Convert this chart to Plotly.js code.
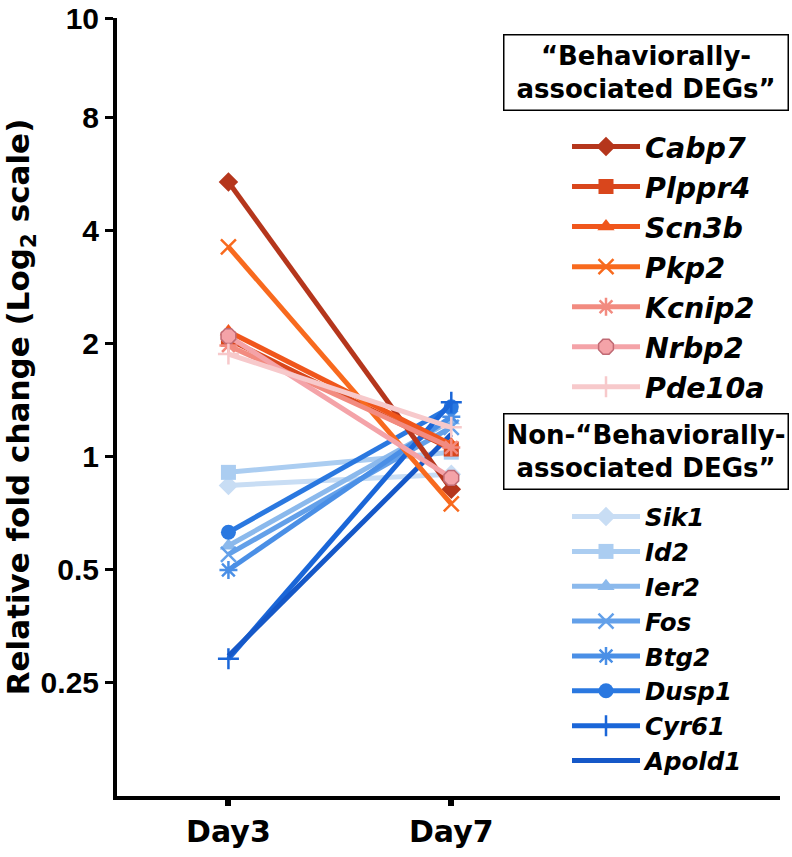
<!DOCTYPE html>
<html>
<head>
<meta charset="utf-8">
<script src="https://cdn.plot.ly/plotly-3.0.1.min.js"></script>
<style>html,body{margin:0;padding:0;background:#fff;}</style>
</head>
<body>
<div id="chart" style="width:792px;height:857px;"></div>
<script>
// ---- Data ----
var days = ["Day3", "Day7"];

var behGenes   = ["Cabp7", "Plppr4", "Scn3b", "Pkp2", "Kcnip2", "Nrbp2", "Pde10a"];
var behDay3    = [5.4, 2.06, 2.16, 3.63, 1.98, 2.10, 1.88];
var behDay7    = [0.82, 1.05, 1.08, 0.75, 1.06, 0.88, 1.20];
var behColors  = ["#b5361c", "#d9461c", "#f0561c", "#f86a1e", "#f28b80", "#f4a3a8", "#f7c9cb"];
var behSymbols = ["diamond", "square", "triangle-up", "x-thin-open", "asterisk-open", "octagon", "cross-thin-open"];

var nonGenes   = ["Sik1", "Id2", "Ier2", "Fos", "Btg2", "Dusp1", "Cyr61", "Apold1"];
var nonDay3    = [0.84, 0.91, 0.58, 0.55, 0.50, 0.63, 0.29, 0.295];
var nonDay7    = [0.90, 1.03, 1.25, 1.20, 1.28, 1.36, 1.40, 1.15];
var nonColors  = ["#c8ddf4", "#abcdf1", "#8bb9ec", "#63a0e9", "#4a8fe6", "#2a78e0", "#1a66d8", "#1558c8"];
var nonSymbols = ["diamond", "square", "triangle-up", "x-thin-open", "asterisk-open", "circle", "cross-thin-open", null];

var yTickVals = [0.25, 0.5, 1, 2, 4, 8, 14.7];
var yTickText = ["0.25", "0.5", "1", "2", "4", "8", "10"];

// ---- Traces ----
var traces = [];
function addTrace(name, d3, d7, color, symbol, legendId) {
  var isThin = symbol && (symbol.indexOf("open") >= 0);
  var t = {
    type: "scatter",
    x: days,
    y: [d3, d7],
    name: "<i>" + name + "</i>",
    legend: legendId,
    mode: symbol ? "lines+markers" : "lines",
    line: {color: color, width: 5},
    cliponaxis: false
  };
  if (symbol) {
    t.marker = {
      symbol: symbol,
      size: symbol === "octagon" ? 16 : 15,
      color: color,
      line: {color: isThin ? color : (symbol === "octagon" ? "#c06a74" : color), width: isThin ? 2.5 : (symbol === "octagon" ? 1.5 : 0)}
    };
  }
  traces.push(t);
}
for (var i = 0; i < nonGenes.length; i++) addTrace(nonGenes[i], nonDay3[i], nonDay7[i], nonColors[i], nonSymbols[i], "legend2");
for (var j = 0; j < behGenes.length; j++) addTrace(behGenes[j], behDay3[j], behDay7[j], behColors[j], behSymbols[j], "legend");

var F = "Liberation Sans, Arial, sans-serif";
var D = "DejaVu Sans, sans-serif";

var layout = {
  width: 792, height: 857,
  margin: {l: 117, r: 12, t: 18, b: 61},
  paper_bgcolor: "#fff", plot_bgcolor: "#fff",
  showlegend: true,
  xaxis: {
    type: "category",
    range: [-0.5, 2.475],
    showline: true, linecolor: "#000", linewidth: 4,
    ticks: "outside", ticklen: 6, tickwidth: 6, tickcolor: "#000",
    showgrid: false, zeroline: false,
    tickfont: {family: D, size: 30, color: "#000", weight: "bold"}
  },
  yaxis: {
    type: "log",
    range: [Math.log10(0.125), Math.log10(14.77)],
    tickmode: "array", tickvals: yTickVals, ticktext: yTickText,
    ticklabeloverflow: "allow",
    showline: true, linecolor: "#000", linewidth: 4,
    ticks: "outside", ticklen: 8, tickwidth: 3, tickcolor: "#000",
    showgrid: false, zeroline: false,
    tickfont: {family: F, size: 30, color: "#000", weight: "bold"},
    title: {text: "Relative fold change (Log<sub>2</sub> scale)", font: {family: D, size: 31, color: "#000", weight: "bold"}, standoff: 2}
  },
  legend: {
    x: (567 - 117) / 663, xanchor: "left", y: 0.867, yanchor: "top",
    bgcolor: "rgba(0,0,0,0)", itemwidth: 68,
    font: {family: D, size: 28.5, color: "#000", weight: "bold"},
    traceorder: "normal", itemclick: false
  },
  legend2: {
    x: (567 - 117) / 663, xanchor: "left", y: 0.388, yanchor: "top",
    bgcolor: "rgba(0,0,0,0)", itemwidth: 68,
    font: {family: D, size: 24.5, color: "#000", weight: "bold"},
    traceorder: "normal", itemclick: false
  },
  annotations: [
    {xref: "paper", yref: "paper", x: (645.5 - 117) / 663, y: (796 - 73) / 778, xanchor: "center", yanchor: "middle",
     text: "\u201cBehaviorally-<br>associated DEGs\u201d", showarrow: false, align: "center",
     width: 281, height: 72, bordercolor: "#000", borderwidth: 1.5, borderpad: 1,
     font: {family: D, size: 26, color: "#000", weight: "bold"}},
    {xref: "paper", yref: "paper", x: (645.5 - 117) / 663, y: (796 - 451) / 778, xanchor: "center", yanchor: "middle",
     text: "Non-\u201cBehaviorally-<br>associated DEGs\u201d", showarrow: false, align: "center",
     width: 281, height: 72, bordercolor: "#000", borderwidth: 1.5, borderpad: 1,
     font: {family: D, size: 26, color: "#000", weight: "bold"}}
  ]
};

Plotly.newPlot("chart", traces, layout, {displayModeBar: false, staticPlot: true});
</script>
</body>
</html>
